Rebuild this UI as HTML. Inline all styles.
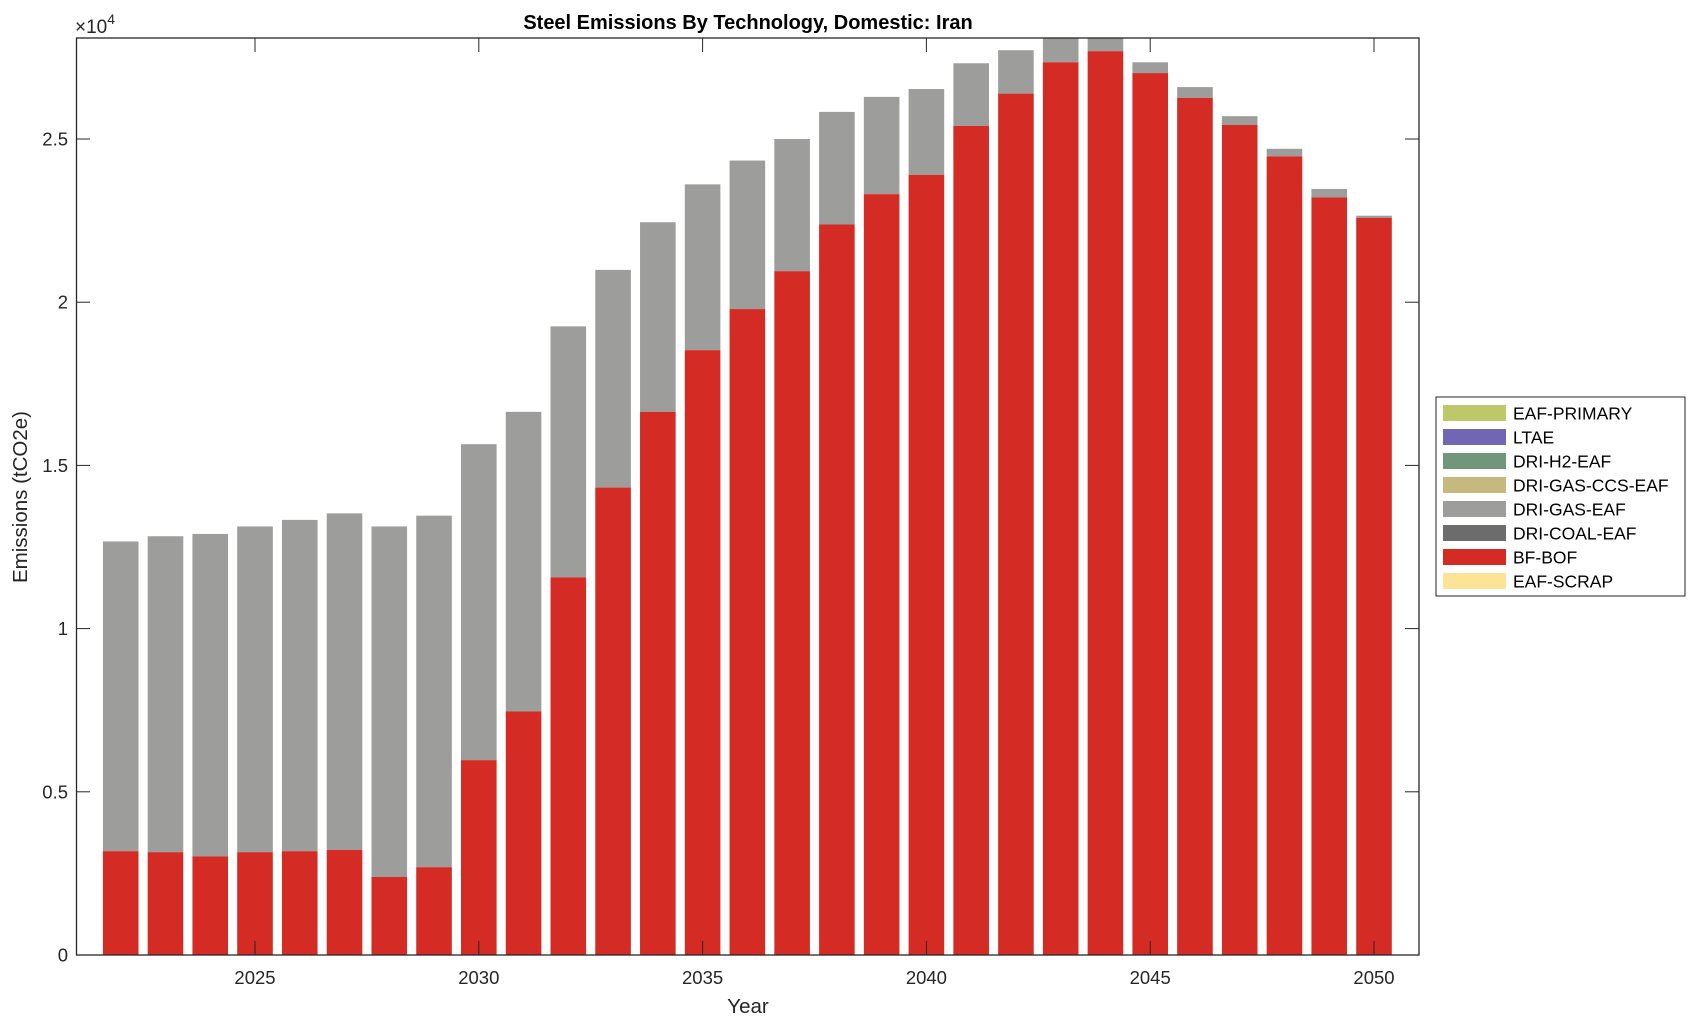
<!DOCTYPE html>
<html><head><meta charset="utf-8"><style>
html,body{margin:0;padding:0;background:#fff;}
svg{display:block;font-family:"Liberation Sans",Arial,sans-serif;}
</style></head><body>
<svg width="1696" height="1023" xmlns="http://www.w3.org/2000/svg">
<rect width="1696" height="1023" fill="#fff"/>
<defs><clipPath id="c"><rect x="76.5" y="38" width="1342.5" height="917"/></clipPath></defs>
<g id="bars" clip-path="url(#c)"></g>
<rect x="76.5" y="38" width="1342.5" height="917" fill="none" stroke="#262626" stroke-width="1.3"/>
<g id="ticks" stroke="#262626" stroke-width="1"></g>
<g id="labels" fill="#262626" font-size="18.5"></g>
<text x="748" y="29" text-anchor="middle" font-weight="bold" font-size="20" fill="#000">Steel Emissions By Technology, Domestic: Iran</text>
<text x="75" y="33" font-size="19" fill="#262626">×10<tspan dy="-9" font-size="14">4</tspan></text>
<text x="748" y="1013" text-anchor="middle" font-size="20.5" fill="#262626">Year</text>
<text transform="translate(27,497) rotate(-90)" text-anchor="middle" font-size="20.5" fill="#262626">Emissions (tCO2e)</text>
<g id="legend"></g>
</svg>
<script>
const ns="http://www.w3.org/2000/svg";
function el(p,t,a,txt){const e=document.createElementNS(ns,t);for(const k in a)e.setAttribute(k,a[k]);if(txt)e.textContent=txt;p.appendChild(e);return e;}
const tot=[12.67,12.83,12.9,13.13,13.33,13.53,13.13,13.46,15.65,16.64,19.26,20.99,22.45,23.61,24.34,25.0,25.83,26.29,26.53,27.32,27.72,28.2,28.6,27.35,26.59,25.7,24.7,23.47,22.65];
const red=[3.18,3.15,3.02,3.15,3.18,3.22,2.39,2.69,5.97,7.46,11.57,14.32,16.64,18.53,19.79,20.95,22.38,23.31,23.9,25.4,26.39,27.35,27.69,27.02,26.26,25.43,24.47,23.21,22.58];
const X=y=>255+(y-2025)*44.76, Y=v=>955-v*32.64;
const bars=document.getElementById('bars');
for(let i=0;i<29;i++){const x=X(2022+i)-17.8;
el(bars,'rect',{x:x,y:Y(tot[i]),width:35.6,height:Y(red[i])-Y(tot[i]),fill:'#9d9d9c'});
el(bars,'rect',{x:x,y:Y(red[i]),width:35.6,height:955-Y(red[i]),fill:'#d42b25'});}
const tk=document.getElementById('ticks'),lb=document.getElementById('labels');
for(let y=2025;y<=2050;y+=5){const x=X(y);
el(tk,'line',{x1:x,y1:955,x2:x,y2:941});el(tk,'line',{x1:x,y1:38,x2:x,y2:52});
el(lb,'text',{x:x,y:984,'text-anchor':'middle'},String(y));}
['0','0.5','1','1.5','2','2.5'].forEach((s,i)=>{const y=Y(i*5);
el(tk,'line',{x1:76.5,y1:y,x2:90,y2:y});el(tk,'line',{x1:1419,y1:y,x2:1405,y2:y});
el(lb,'text',{x:68,y:y+6.5,'text-anchor':'end'},s);});
const lg=document.getElementById('legend');
el(lg,'rect',{x:1436,y:397,width:249,height:199,fill:'#fff',stroke:'#262626','stroke-width':1});
const items=[['EAF-PRIMARY','#bfc76b'],['LTAE','#7166b5'],['DRI-H2-EAF','#71977b'],['DRI-GAS-CCS-EAF','#c5b97f'],['DRI-GAS-EAF','#9d9d9c'],['DRI-COAL-EAF','#6c6c6c'],['BF-BOF','#d42b25'],['EAF-SCRAP','#fde396']];
items.forEach((it,i)=>{const cy=413+i*24;
el(lg,'rect',{x:1443,y:cy-8,width:63,height:16,fill:it[1]});
el(lg,'text',{x:1513,y:cy+6.5,'font-size':'17.5',fill:'#000'},it[0]);});
</script>
</body></html>
